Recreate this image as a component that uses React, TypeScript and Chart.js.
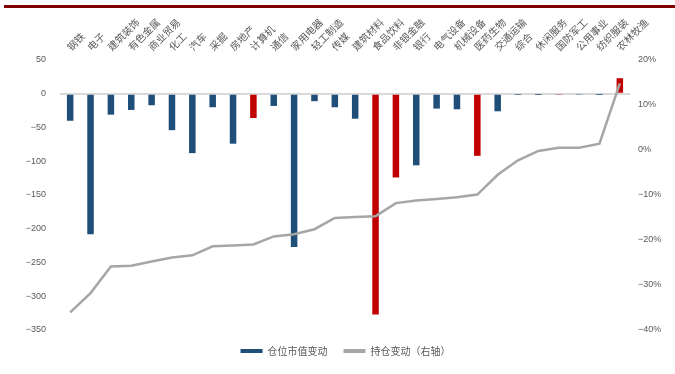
import React, { useEffect, useRef } from "react";
import { Chart, registerables } from "chart.js";

Chart.register(...registerables);

// Industries, sorted by change in holding ratio
const industries = [
  "钢铁", "电子", "建筑装饰", "有色金属", "商业贸易", "化工", "汽车", "采掘",
  "房地产", "计算机", "通信", "家用电器", "轻工制造", "传媒", "建筑材料", "食品饮料",
  "非银金融", "银行", "电气设备", "机械设备", "医药生物", "交通运输", "综合", "休闲服务",
  "国防军工", "公用事业", "纺织服装", "农林牧渔",
];

// Change in position market value (left axis)
const marketValueChange = [
  -40, -208, -31, -24, -17, -54, -88, -20,
  -74, -36, -18, -227, -11, -20, -37, -327,
  -124, -106, -22, -23, -92, -26, -0.6, -0.4,
  -1, -1, -0.4, 23,
];

// Change in holdings, % (right axis)
const holdingChange = [
  -36.1, -31.8, -25.9, -25.7, -24.8, -23.9, -23.4, -21.4,
  -21.2, -21.0, -19.2, -18.7, -17.6, -15.1, -14.9, -14.7,
  -11.8, -11.2, -10.9, -10.5, -9.9, -5.5, -2.3, -0.2,
  0.5, 0.5, 1.4, 14.8,
];

// Industries whose bars are highlighted in red
const highlighted = ["计算机", "食品饮料", "非银金融", "医药生物", "国防军工", "农林牧渔"];

const leftTicks = [50, 0, -50, -100, -150, -200, -250, -300, -350];
const rightTicks = [20, 10, 0, -10, -20, -30, -40];

const seriesNames = ["仓位市值变动", "持仓变动（右轴）"];

const BLUE = "#1f4e79";
const RED = "#c00000";
const GREY_LINE = "#a6a6a6";
const TEXT = "#595959";
const CJK = '"Noto Sans CJK SC", "Noto Sans", sans-serif';
const LATIN = '"Liberation Sans", Arial, sans-serif';

const fmt = (v: number) => (v < 0 ? "\u2212" + Math.abs(v) : String(v));

// Nudges the legend a little to the right of the canvas centre
const legendShift = {
  id: "legendShift",
  afterLayout(chart: any) {
    const lg = chart.legend;
    if (lg) {
      lg.left += 8;
      lg.right += 8;
    }
  },
};

export default function App() {
  const canvasRef = useRef<HTMLCanvasElement | null>(null);

  useEffect(() => {
    if (!canvasRef.current) return;
    const chart = new Chart(canvasRef.current, {
      type: "bar",
      data: {
        labels: industries,
        datasets: [
          {
            type: "bar",
            label: seriesNames[0],
            data: marketValueChange,
            backgroundColor: industries.map((n) => (highlighted.includes(n) ? RED : BLUE)),
            borderWidth: 0,
            barPercentage: 0.32,
            categoryPercentage: 1,
            yAxisID: "y",
            order: 2,
          },
          {
            type: "line",
            label: seriesNames[1],
            data: holdingChange,
            borderColor: GREY_LINE,
            backgroundColor: GREY_LINE,
            borderWidth: 2.5,
            pointRadius: 0,
            tension: 0,
            yAxisID: "y1",
            order: 1,
          },
        ],
      },
      plugins: [legendShift],
      options: {
        animation: false,
        responsive: false,
        layout: { padding: { left: 0, right: 0, top: 0, bottom: 8 } },
        plugins: {
          tooltip: { enabled: false },
          legend: {
            position: "bottom",
            labels: {
              boxWidth: 22,
              boxHeight: 4,
              padding: 16,
              color: TEXT,
              font: { family: CJK, size: 10 },
              generateLabels: (c: any) =>
                c.data.datasets.map((ds: any, i: number) => ({
                  text: ds.label,
                  fillStyle: i === 0 ? BLUE : GREY_LINE,
                  strokeStyle: i === 0 ? BLUE : GREY_LINE,
                  lineWidth: 0,
                  fontColor: TEXT,
                  hidden: false,
                  datasetIndex: i,
                })),
            },
          },
        },
        scales: {
          x: {
            position: "top",
            grid: { display: false, drawTicks: false },
            border: { display: false },
            afterFit: (s: any) => {
              s.height = 60;
            },
            ticks: {
              autoSkip: false,
              minRotation: 45,
              maxRotation: 45,
              padding: 7,
              labelOffset: 7,
              color: TEXT,
              font: { family: CJK, size: 10 },
            },
          },
          y: {
            position: "left",
            min: -350,
            max: 50,
            afterFit: (s: any) => {
              s.width = 60;
            },
            afterBuildTicks: (s: any) => {
              s.ticks = leftTicks.map((v) => ({ value: v }));
            },
            grid: {
              drawTicks: false,
              lineWidth: 2,
              color: (ctx: any) => (ctx.tick && ctx.tick.value === 0 ? "#d9d9d9" : "rgba(0,0,0,0)"),
            },
            border: { display: false },
            ticks: {
              padding: 14,
              color: TEXT,
              font: { family: LATIN, size: 9 },
              callback: (v: any) => fmt(Number(v)),
            },
          },
          y1: {
            position: "right",
            min: -40,
            max: 20,
            afterFit: (s: any) => {
              s.width = 45;
            },
            afterBuildTicks: (s: any) => {
              s.ticks = rightTicks.map((v) => ({ value: v }));
            },
            grid: { display: false, drawTicks: false },
            border: { display: false },
            ticks: {
              padding: 8,
              color: TEXT,
              font: { family: LATIN, size: 9 },
              callback: (v: any) => fmt(Number(v)) + "%",
            },
          },
        },
      },
    });
    return () => chart.destroy();
  }, []);

  return (
    <div style={{ position: "fixed", left: 0, top: 0, width: 675, height: 374, background: "#ffffff" }}>
      <div
        style={{
          position: "absolute",
          left: 4,
          right: 0,
          top: 5,
          height: 3,
          background: "#7f0000",
        }}
      />
      <canvas ref={canvasRef} width={675} height={374} style={{ display: "block" }} />
    </div>
  );
}
